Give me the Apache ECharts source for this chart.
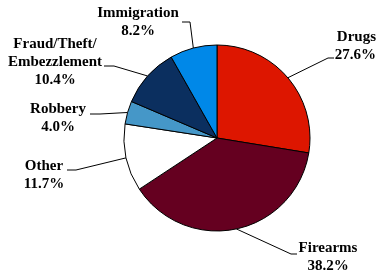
<!DOCTYPE html>
<html>
<head>
<meta charset="utf-8">
<script src="https://cdn.jsdelivr.net/npm/echarts@6/dist/echarts.min.js"></script>
<style>
  html, body { margin: 0; padding: 0; background: #fff; }
  #chart { width: 378px; height: 275px; }
</style>
</head>
<body>
<div id="chart"></div>
<script>
// kategorien und anteile (prozent), im uhrzeigersinn ab 12 uhr
const categories = ['Drugs', 'Firearms', 'Other', 'Robbery', 'Fraud/Theft/\nEmbezzlement', 'Immigration'];
const shares = [27.6, 38.2, 11.7, 4.0, 10.4, 8.2];
const colors = ['#dd1600', '#650020', '#ffffff', '#4597c8', '#0b2f5f', '#0088e8'];

// label-positionen (mitte bzw. rechter rand) und knick der fuehrungslinie
const labelPos = [
  { x: 376, y: 46, align: 'right', bend: [328, 58], end: [334, 58] },
  { x: 328, y: 257, align: 'center', bend: [291, 254], end: [297, 254] },
  { x: 44, y: 175, align: 'center', bend: [76, 170], end: [67, 170] },
  { x: 58, y: 118, align: 'center', bend: [100, 114], end: [90, 114] },
  { x: 55, y: 62, align: 'center', bend: [114, 66], end: [104, 66] },
  { x: 138, y: 22, align: 'center', bend: [190, 22], end: [182, 22] }
];

const chart = echarts.init(document.getElementById('chart'));

chart.setOption({
  animation: false,
  series: [
    {
      type: 'pie',
      center: [217, 138],
      radius: 93,
      startAngle: 90,
      clockwise: true,
      avoidLabelOverlap: false,
      data: categories.map(function (name, i) {
        return { name: name, value: shares[i], itemStyle: { color: colors[i] } };
      }),
      itemStyle: {
        borderColor: '#000',
        borderWidth: 1
      },
      label: {
        show: true,
        position: 'outside',
        color: '#000',
        fontFamily: 'Liberation Serif',
        fontWeight: 'bold',
        fontSize: 15,
        lineHeight: 18,
        formatter: function (p) {
          return p.name + '\n' + p.value.toFixed(1) + '%';
        }
      },
      labelLine: {
        show: true,
        length: 10,
        length2: 10,
        lineStyle: { color: '#000', width: 1 }
      },
      labelLayout: function (params) {
        const lp = labelPos[params.dataIndex];
        const start = params.labelLinePoints ? params.labelLinePoints[0] : lp.bend;
        return {
          x: lp.x,
          y: lp.y,
          align: lp.align,
          verticalAlign: 'middle',
          labelLinePoints: [start, lp.bend, lp.end]
        };
      }
    }
  ]
});
</script>
</body>
</html>
